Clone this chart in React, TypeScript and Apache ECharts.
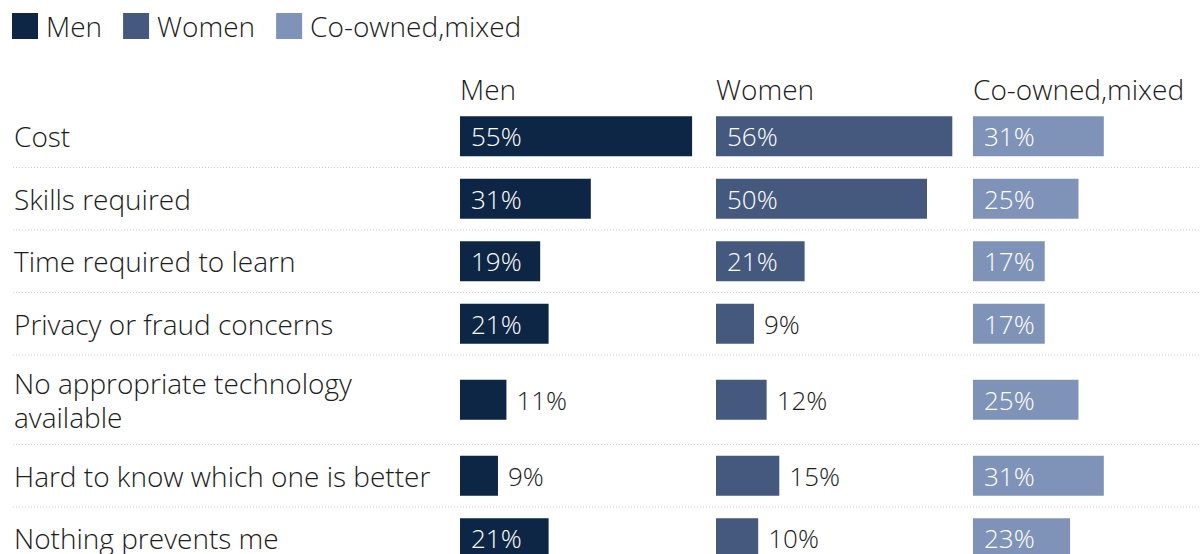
import React, { useEffect, useRef } from "react";
import * as echarts from "echarts";

const categories = [
  "Cost",
  "Skills required",
  "Time required to learn",
  "Privacy or fraud concerns",
  "No appropriate technology\navailable",
  "Hard to know which one is better",
  "Nothing prevents me",
];
const groups = ["Men", "Women", "Co-owned,mixed"];
const menValues = [55, 31, 19, 21, 11, 9, 21];
const womenValues = [56, 50, 21, 9, 12, 15, 10];
const coownedValues = [31, 25, 17, 17, 25, 31, 23];
const seriesValues = [menValues, womenValues, coownedValues];
const colors = ["#0e2645", "#45597e", "#7f93b9"];

const FONT = "'Open Sans'";
const WEIGHT = 300;
const TEXT = "#1c1c1c";
const colLefts = [460, 716, 973];
const pxPerPct = 4.22;
const xMax = 60;
const firstRowTop = 105;
const baseRowH = 62.5;
const extraLineH = 27;
const barW = 40;
const insideMin = 16;

export default function App() {
  const ref = useRef<HTMLDivElement>(null);
  useEffect(() => {
    document.body.style.margin = "0";
    const chart = echarts.init(ref.current!, null, { renderer: "svg" });
    const rowH = categories.map((c) => baseRowH + extraLineH * (c.split("\n").length - 1));
    const rowTop: number[] = [];
    let acc = firstRowTop;
    rowH.forEach((h) => {
      rowTop.push(acc);
      acc += h;
    });

    const grid: any[] = [];
    const xAxis: any[] = [];
    const yAxis: any[] = [];
    const series: any[] = [];
    categories.forEach((cat, r) => {
      groups.forEach((g, c) => {
        const idx = grid.length;
        grid.push({
          left: colLefts[c],
          top: rowTop[r],
          width: xMax * pxPerPct,
          height: rowH[r],
          containLabel: false,
        });
        xAxis.push({
          type: "value",
          gridIndex: idx,
          min: 0,
          max: xMax,
          show: false,
        });
        yAxis.push({
          type: "category",
          gridIndex: idx,
          data: [cat],
          axisLine: { show: false },
          axisTick: { show: false },
          axisLabel: {
            show: c === 0,
            align: "left",
            margin: colLefts[0] - 14,
            fontFamily: FONT,
            fontWeight: WEIGHT,
            fontSize: 28,
            lineHeight: 34,
            color: TEXT,
          },
        });
        const v = seriesValues[c][r];
        const inside = v >= insideMin;
        series.push({
          type: "bar",
          name: g,
          xAxisIndex: idx,
          yAxisIndex: idx,
          data: [v],
          barWidth: barW,
          itemStyle: { color: colors[c] },
          label: {
            show: true,
            position: inside ? "insideLeft" : "right",
            distance: inside ? 11 : 10,
            formatter: "{c}%",
            fontFamily: FONT,
            fontWeight: WEIGHT,
            fontSize: 26,
            color: inside ? "#ffffff" : TEXT,
          },
        });
      });
    });

    const graphic: any[] = [];
    rowTop.slice(1).concat([acc]).forEach((y) => {
      graphic.push({
        type: "line",
        shape: { x1: 13, y1: y, x2: 1201, y2: y },
        style: { stroke: "#cfcfcf", lineWidth: 1, lineDash: [1, 2] },
        silent: true,
      });
    });

    const title = groups.map((g, c) => ({
      text: g,
      left: colLefts[c],
      top: 73,
      padding: 0,
      textStyle: {
        fontFamily: FONT,
        fontSize: 28,
        lineHeight: 32,
        fontWeight: WEIGHT,
        color: TEXT,
      },
    }));

    chart.setOption({
      animation: false,
      backgroundColor: "#ffffff",
      textStyle: { fontFamily: FONT },
      title,
      legend: {
        data: groups,
        left: 12,
        top: 12,
        padding: 0,
        icon: "rect",
        itemWidth: 26,
        itemHeight: 26,
        itemGap: 21,
        textStyle: {
          fontFamily: FONT,
          fontWeight: WEIGHT,
          fontSize: 28,
          color: TEXT,
          padding: [0, 0, 0, 3],
        },
      },
      grid,
      xAxis,
      yAxis,
      series,
      graphic,
    });
    return () => chart.dispose();
  }, []);
  return (
    <div style={{ width: 1201, height: 554, overflow: "hidden", position: "relative" }}>
      <div ref={ref} style={{ width: 1260, height: 620 }} />
    </div>
  );
}
